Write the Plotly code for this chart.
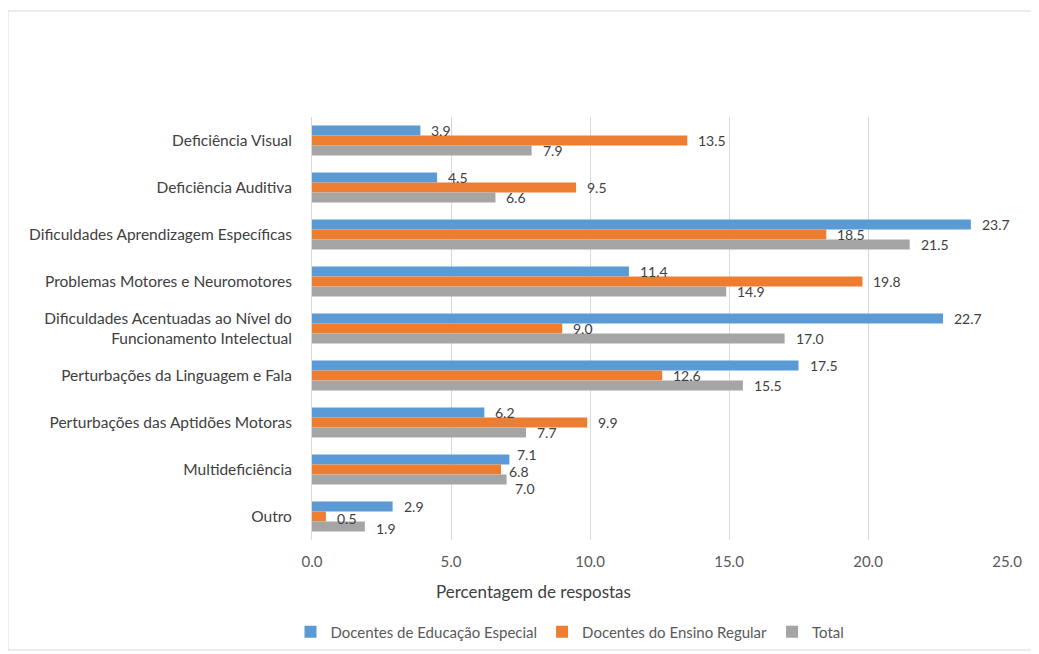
import plotly.graph_objects as go

categories = [
    "Deficiência Visual",
    "Deficiência Auditiva",
    "Dificuldades Aprendizagem Específicas",
    "Problemas Motores e Neuromotores",
    "Dificuldades Acentuadas ao Nível do<br>Funcionamento Intelectual",
    "Perturbações da Linguagem e Fala",
    "Perturbações das Aptidões Motoras",
    "Multideficiência",
    "Outro",
]
series_names = ["Docentes de Educação Especial", "Docentes do Ensino Regular", "Total"]
educ_especial = [3.9, 4.5, 23.7, 11.4, 22.7, 17.5, 6.2, 7.1, 2.9]
ensino_regular = [13.5, 9.5, 18.5, 19.8, 9.0, 12.6, 9.9, 6.8, 0.5]
total = [7.9, 6.6, 21.5, 14.9, 17.0, 15.5, 7.7, 7.0, 1.9]
x_ticks = [0, 5, 10, 15, 20, 25]

colors = ["#5B9BD5", "#ED7D31", "#A5A5A5"]
FONT = "Lato, Open Sans, sans-serif"

fig = go.Figure()
all_series = [educ_especial, ensino_regular, total]
for name, vals, col in zip(series_names, all_series, colors):
    fig.add_trace(go.Bar(
        y=categories, x=vals, name=name, orientation="h",
        marker=dict(color=col, line=dict(width=0)),
        hoverinfo="x+name",
    ))

OFF = 8  # page body margin
W, H = 1039 - OFF, 654 - OFF
L, R, T, B = 312 - OFF, 1007 - OFF, 117 - OFF, 540 - OFF
pw, ph = R - L, B - T

def px(x):
    return (x - OFF - L) / pw

def py(y):
    return (B - (y - OFF)) / ph

# data labels (vertical spreading of labels, as the reference does where labels crowd)
annotations = []
default_shift = [10, 0, -10]
crowded_shift = {"Multideficiência": [15, -2, -19], "Outro": [10, -2, -12]}
for si, vals in enumerate(all_series):
    for ci, (cat, v) in enumerate(zip(categories, vals)):
        ys = crowded_shift.get(cat, default_shift)[si]
        xs = 9
        if cat == "Multideficiência":
            xs = 9 + (max(s[ci] for s in all_series) - v) * pw / 25.0 if False else 6
        annotations.append(dict(
            x=v, y=cat, xref="x", yref="y", text=f"{v:.1f}",
            xanchor="left", yanchor="middle", xshift=xs, yshift=ys,
            showarrow=False, font=dict(family=FONT, size=14, color="#404040"),
        ))

annotations.append(dict(text="Percentagem de respostas", xref="paper", yref="paper",
                        x=px(533), y=py(591), xanchor="center", yanchor="middle",
                        showarrow=False, font=dict(family=FONT, size=17, color="#404040")))

fig.update_layout(
    width=W, height=H,
    margin=dict(l=L, r=W - R, t=T, b=H - B, autoexpand=False),
    paper_bgcolor="white", plot_bgcolor="white",
    barmode="group", bargap=0.36, bargroupgap=0,
    font=dict(family=FONT, size=14, color="#595959"),
    showlegend=True,
    legend=dict(orientation="h", x=px(570), y=py(632), xanchor="center", yanchor="middle",
                font=dict(family=FONT, size=15, color="#595959"), traceorder="normal",
                itemwidth=30),
    xaxis=dict(range=[0, 25], tickvals=x_ticks, tickformat=".1f",
               showgrid=True, gridcolor="#D9D9D9", gridwidth=1,
               zeroline=False, showline=False,
               ticks="outside", ticklen=8, tickcolor="rgba(0,0,0,0)",
               tickfont=dict(family=FONT, size=15, color="#595959")),
    yaxis=dict(autorange="reversed", showgrid=False, zeroline=False,
               showline=True, linecolor="#D9D9D9", linewidth=1,
               ticks="outside", ticklen=16, tickcolor="rgba(0,0,0,0)",
               tickfont=dict(family=FONT, size=15.5, color="#404040")),
    shapes=[dict(type="rect", xref="paper", yref="paper",
                 x0=px(8), x1=px(1036), y0=py(650), y1=py(11),
                 line=dict(color="#D9D9D9", width=1), fillcolor="rgba(0,0,0,0)", layer="below")],
    annotations=annotations,
)

fig.write_html("out.html")
